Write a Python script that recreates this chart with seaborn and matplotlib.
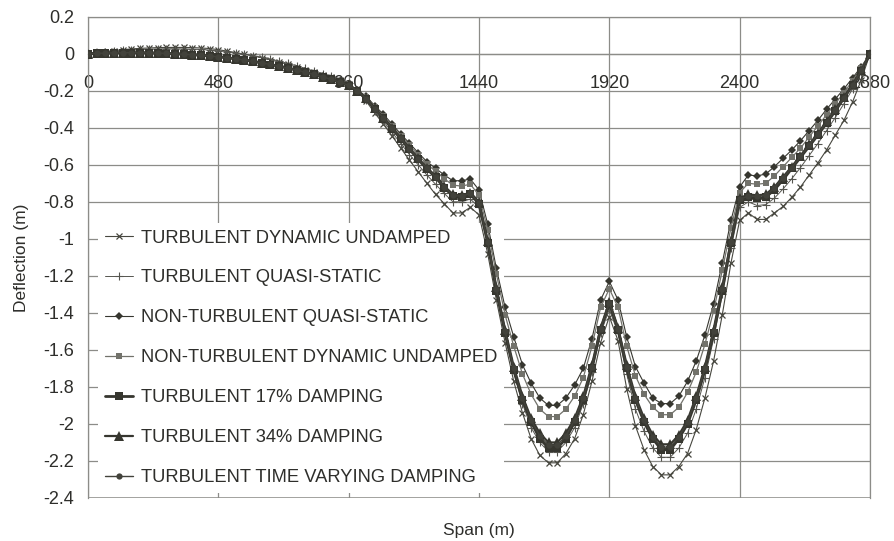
import numpy as np
import matplotlib
matplotlib.use("Agg")
import matplotlib.pyplot as plt
import seaborn as sns

# ---------------- data ----------------
span = np.arange(0, 2881, 32)  # span stations (m)

turb_dyn_undamped = [
    0, 0.006, 0.012, 0.017, 0.022, 0.026, 0.029, 0.031, 0.033, 0.034, 0.034, 0.034, 0.033, 0.031, 0.028,
    0.022, 0.014, 0.006, -0.003, -0.012, -0.022, -0.033, -0.045, -0.058, -0.072, -0.086, -0.100, -0.114, -0.128, -0.143, -0.165,
    -0.20, -0.255, -0.32, -0.38, -0.445, -0.51, -0.575, -0.637, -0.70, -0.76, -0.81, -0.86, -0.86, -0.83,
    -0.87,
    -1.08, -1.33, -1.56, -1.77, -1.94, -2.08, -2.17, -2.21, -2.21, -2.16, -2.08, -1.95, -1.77, -1.56,
    -1.42,
    -1.55, -1.81, -2.01, -2.14, -2.23, -2.275, -2.275, -2.23, -2.16, -2.03, -1.86, -1.66, -1.41, -1.13,
    -0.90,
    -0.86, -0.895, -0.895, -0.86, -0.825, -0.775, -0.72, -0.655, -0.59, -0.52, -0.44, -0.36, -0.26, -0.14, 0.0,
]

turb_quasi_static = [
    0, 0.005, 0.010, 0.014, 0.018, 0.021, 0.023, 0.025, 0.026, 0.027, 0.027, 0.026, 0.025, 0.023, 0.020,
    0.016, 0.011, 0.005, -0.002, -0.010, -0.019, -0.029, -0.040, -0.052, -0.065, -0.079, -0.093, -0.107, -0.122, -0.138, -0.158,
    -0.20, -0.25, -0.31, -0.365, -0.425, -0.485, -0.545, -0.60, -0.655, -0.705, -0.755, -0.80, -0.80, -0.785,
    -0.83,
    -1.04, -1.29, -1.52, -1.72, -1.89, -2.02, -2.10, -2.15, -2.15, -2.10, -2.02, -1.89, -1.72, -1.51,
    -1.38,
    -1.51, -1.73, -1.92, -2.04, -2.13, -2.18, -2.18, -2.13, -2.05, -1.92, -1.75, -1.54, -1.30, -1.05,
    -0.83,
    -0.80, -0.82, -0.815, -0.78, -0.73, -0.675, -0.615, -0.55, -0.485, -0.415, -0.345, -0.27, -0.19, -0.10, 0.0,
]

nonturb_quasi_static = [
    0, 0.002, 0.004, 0.006, 0.007, 0.008, 0.008, 0.008, 0.007, 0.006, 0.004, 0.002, -0.001, -0.004, -0.008,
    -0.012, -0.017, -0.023, -0.030, -0.037, -0.045, -0.054, -0.063, -0.073, -0.084, -0.095, -0.107, -0.120, -0.134, -0.149, -0.165,
    -0.196, -0.229, -0.281, -0.327, -0.381, -0.434, -0.484, -0.535, -0.583, -0.619, -0.655, -0.686, -0.686, -0.677,
    -0.736,
    -0.92, -1.16, -1.37, -1.53, -1.68, -1.78, -1.86, -1.90, -1.90, -1.86, -1.79, -1.70, -1.54, -1.33,
    -1.23,
    -1.33, -1.53, -1.69, -1.78, -1.86, -1.89, -1.89, -1.85, -1.77, -1.66, -1.52, -1.35, -1.13, -0.90,
    -0.72,
    -0.655, -0.66, -0.65, -0.61, -0.565, -0.52, -0.47, -0.415, -0.36, -0.30, -0.245, -0.19, -0.13, -0.07, 0.0,
]

nonturb_dyn_undamped = [
    0, 0.002, 0.004, 0.005, 0.006, 0.007, 0.007, 0.007, 0.006, 0.005, 0.003, 0.001, -0.002, -0.005, -0.009,
    -0.013, -0.018, -0.024, -0.031, -0.038, -0.046, -0.055, -0.064, -0.074, -0.085, -0.096, -0.108, -0.121, -0.135, -0.150, -0.167,
    -0.198, -0.235, -0.288, -0.336, -0.39, -0.443, -0.495, -0.547, -0.596, -0.635, -0.675, -0.71, -0.715, -0.705,
    -0.765,
    -0.95, -1.19, -1.41, -1.58, -1.73, -1.84, -1.92, -1.96, -1.96, -1.92, -1.85, -1.75, -1.58, -1.37,
    -1.27,
    -1.37, -1.58, -1.74, -1.84, -1.91, -1.95, -1.95, -1.91, -1.83, -1.72, -1.57, -1.39, -1.17, -0.94,
    -0.75,
    -0.70, -0.705, -0.70, -0.66, -0.61, -0.56, -0.51, -0.45, -0.39, -0.33, -0.27, -0.21, -0.145, -0.075, 0.0,
]

turb_17_damping = [
    0, 0.002, 0.003, 0.004, 0.005, 0.005, 0.005, 0.004, 0.003, 0.001, -0.001, -0.003, -0.006, -0.009, -0.013,
    -0.017, -0.022, -0.028, -0.035, -0.042, -0.050, -0.059, -0.068, -0.078, -0.089, -0.100, -0.112, -0.125, -0.139, -0.154, -0.172,
    -0.202, -0.243, -0.298, -0.349, -0.405, -0.46, -0.516, -0.571, -0.622, -0.668, -0.723, -0.77, -0.775, -0.76,
    -0.81,
    -1.02, -1.28, -1.51, -1.71, -1.87, -1.99, -2.08, -2.13, -2.13, -2.08, -1.99, -1.87, -1.70, -1.49,
    -1.35,
    -1.49, -1.70, -1.87, -1.99, -2.08, -2.14, -2.14, -2.08, -2.00, -1.87, -1.71, -1.51, -1.28, -1.02,
    -0.79,
    -0.775, -0.78, -0.775, -0.735, -0.68, -0.62, -0.56, -0.50, -0.44, -0.375, -0.31, -0.24, -0.17, -0.095, 0.0,
]

turb_34_damping = [
    0, 0.002, 0.004, 0.005, 0.006, 0.006, 0.006, 0.005, 0.004, 0.002, 0.0, -0.002, -0.005, -0.008, -0.012,
    -0.016, -0.021, -0.027, -0.034, -0.041, -0.049, -0.058, -0.067, -0.077, -0.088, -0.099, -0.111, -0.124, -0.138, -0.153, -0.170,
    -0.20, -0.24, -0.295, -0.345, -0.40, -0.455, -0.51, -0.565, -0.615, -0.66, -0.715, -0.76, -0.765, -0.75,
    -0.80,
    -1.01, -1.26, -1.49, -1.69, -1.85, -1.97, -2.05, -2.10, -2.10, -2.05, -1.97, -1.85, -1.68, -1.48,
    -1.34,
    -1.48, -1.68, -1.85, -1.97, -2.06, -2.11, -2.11, -2.06, -1.98, -1.85, -1.69, -1.49, -1.26, -1.01,
    -0.78,
    -0.76, -0.765, -0.76, -0.72, -0.665, -0.61, -0.55, -0.49, -0.43, -0.365, -0.30, -0.235, -0.165, -0.09, 0.0,
]

turb_time_varying = [
    0, 0.002, 0.003, 0.005, 0.005, 0.006, 0.005, 0.005, 0.003, 0.002, -0.001, -0.003, -0.005, -0.009, -0.012,
    -0.017, -0.022, -0.028, -0.034, -0.042, -0.050, -0.058, -0.068, -0.078, -0.088, -0.100, -0.112, -0.124, -0.139, -0.154, -0.171,
    -0.20, -0.242, -0.297, -0.347, -0.402, -0.457, -0.513, -0.568, -0.618, -0.664, -0.719, -0.765, -0.77, -0.755,
    -0.805,
    -1.015, -1.27, -1.50, -1.70, -1.86, -1.98, -2.065, -2.115, -2.115, -2.065, -1.98, -1.86, -1.69, -1.485,
    -1.345,
    -1.485, -1.69, -1.86, -1.98, -2.07, -2.125, -2.125, -2.07, -1.99, -1.86, -1.70, -1.50, -1.27, -1.015,
    -0.785,
    -0.77, -0.77, -0.765, -0.725, -0.67, -0.615, -0.555, -0.495, -0.435, -0.37, -0.305, -0.24, -0.17, -0.09, 0.0,
]

labels = [
    "TURBULENT DYNAMIC UNDAMPED",
    "TURBULENT QUASI-STATIC",
    "NON-TURBULENT QUASI-STATIC",
    "NON-TURBULENT DYNAMIC UNDAMPED",
    "TURBULENT 17% DAMPING",
    "TURBULENT 34% DAMPING",
    "TURBULENT TIME VARYING DAMPING",
]
xticks = [0, 480, 960, 1440, 1920, 2400, 2880]
yticks = [0.2, 0, -0.2, -0.4, -0.6, -0.8, -1, -1.2, -1.4, -1.6, -1.8, -2, -2.2, -2.4]
ytick_labels = ["0.2", "0", "-0.2", "-0.4", "-0.6", "-0.8", "-1", "-1.2", "-1.4", "-1.6", "-1.8", "-2", "-2.2", "-2.4"]

# ---------------- style ----------------
sns.set_style("white")
plt.rcParams["font.family"] = ["Liberation Sans", "DejaVu Sans"]
TXT = "#2e2e2b"
GRID = "#8c8c88"
DARK = "#36362f"

fig = plt.figure(figsize=(8.94, 5.41), dpi=100)
ax = fig.add_axes([88 / 894, 1 - 498 / 541, (870 - 88) / 894, (498 - 16.7) / 541])

series = [
    (turb_dyn_undamped, dict(color="#47473f", lw=0.8, marker="x", ms=5, mew=0.9, zorder=3)),
    (turb_quasi_static, dict(color="#55554f", lw=0.7, marker="+", ms=6, mew=0.8, zorder=3)),
    (nonturb_quasi_static, dict(color=DARK, lw=0.8, marker="D", ms=3.8, mew=0, zorder=4)),
    (nonturb_dyn_undamped, dict(color="#72726b", lw=0.9, marker="s", ms=4.4, mew=0, zorder=4)),
    (turb_17_damping, dict(color=DARK, lw=2.0, marker="s", ms=5.5, mew=0, zorder=5)),
    (turb_34_damping, dict(color=DARK, lw=1.6, marker="^", ms=7, mew=0, zorder=5)),
    (turb_time_varying, dict(color="#42423b", lw=1.0, marker="o", ms=4.5, mew=0, zorder=6)),
]

for (vals, kw), lab in zip(series, labels):
    sns.lineplot(x=span, y=vals, ax=ax, label=lab, color=kw["color"], linewidth=kw["lw"],
                 marker=kw["marker"], markersize=kw["ms"], markeredgewidth=kw["mew"],
                 markeredgecolor=kw["color"], markerfacecolor=kw["color"], zorder=kw["zorder"],
                 sort=False, estimator=None)

ax.set_xlim(0, 2880)
ax.set_ylim(-2.4, 0.2)
ax.set_xticks(xticks)
ax.set_xticklabels([str(t) for t in xticks])
ax.set_yticks(yticks)
ax.set_yticklabels(ytick_labels)
ax.grid(True, color=GRID, lw=0.9, zorder=0)
ax.set_axisbelow(True)

for s in ["top", "right", "left", "bottom"]:
    ax.spines[s].set_color(GRID)
    ax.spines[s].set_linewidth(0.9)
ax.spines["bottom"].set_position(("data", 0))
ax.axhline(-2.4, color=GRID, lw=1.8, zorder=0.5)

ax.tick_params(axis="x", length=0, pad=15, labelsize=13, colors=TXT)
ax.tick_params(axis="y", length=6, width=0.9, color=GRID, pad=4, labelsize=13, colors=TXT, direction="out")

ax.set_xlabel("Span (m)", fontsize=12.5, color=TXT)
ax.xaxis.set_label_coords(0.5, -0.052)
ax.set_ylabel("Deflection (m)", fontsize=12.5, color=TXT)
ax.yaxis.set_label_coords(-0.076, 0.5)

leg = ax.legend(loc="lower left", bbox_to_anchor=(0.006, 0.0), fontsize=13.2,
                frameon=True, framealpha=1, facecolor="white", edgecolor="none",
                handlelength=1.55, handletextpad=0.45, labelspacing=1.25, borderpad=0.35,
                borderaxespad=0.3)
for t in leg.get_texts():
    t.set_color(TXT)
leg.set_zorder(2)

fig.savefig("out.png", dpi=100, facecolor="white")
